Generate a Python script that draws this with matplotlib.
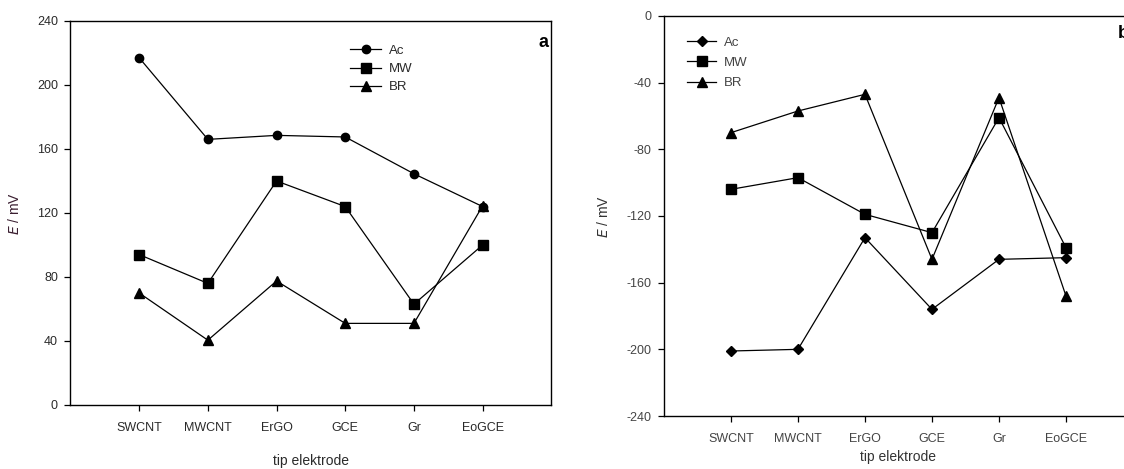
import matplotlib.pyplot as plt

plt.rcParams['font.family'] = ['Liberation Sans', 'DejaVu Sans']
plt.rcParams['axes.unicode_minus'] = False

electrodes = ['SWCNT', 'MWCNT', 'ErGO', 'GCE', 'Gr', 'EoGCE']
series_names = ['Ac', 'MW', 'BR']

# panel a
a_ac = [217, 166, 168.5, 167.5, 144.5, 124]
a_mw = [94, 76, 140, 124, 63, 100]
a_br = [70, 40.5, 77.5, 51, 51, 124.5]

# panel b
b_ac = [-201, -200, -133, -176, -146, -145]
b_mw = [-104, -97, -119, -130, -61, -139]
b_br = [-70, -57, -47, -146, -49, -168]

a_ticks = [0, 40, 80, 120, 160, 200, 240]
b_ticks = [-240, -200, -160, -120, -80, -40, 0]

fig = plt.figure(figsize=(11.24, 4.69), dpi=100)
ax1 = fig.add_axes([0.0627, 0.1365, 0.4278, 0.8188])
ax2 = fig.add_axes([0.5907, 0.1130, 0.4173, 0.8529])

x = range(1, len(electrodes) + 1)


def draw(ax, data, markers, sizes, txtcol):
    for vals, m, s, name in zip(data, markers, sizes, series_names):
        ax.plot(x, vals, color='black', lw=0.9, marker=m, ms=s,
                markerfacecolor='black', markeredgecolor='black', label=name)
    ax.set_xlim(0, 7)
    ax.set_xticks(list(x))
    ax.set_xticklabels(electrodes)
    ax.tick_params(direction='out', length=4, width=0.9, labelsize=9,
                   labelcolor=txtcol, color='black')
    ax.tick_params(axis='x', pad=8)
    ax.tick_params(axis='y', pad=5)
    for sp in ax.spines.values():
        sp.set_linewidth(1.0)


draw(ax1, [a_ac, a_mw, a_br], ['o', 's', '^'], [6, 7.5, 6.5], '#2a2a2a')
ax1.set_ylim(0, 240)
ax1.set_yticks(a_ticks)
ax1.set_ylabel('$\\it{E}$ / mV', fontsize=10, color='#3a1e30', labelpad=11)
ax1.set_xlabel('tip elektrode', fontsize=10, color='#2a2a2a', labelpad=15)
ax1.text(0.995, 0.945, 'a', transform=ax1.transAxes, fontsize=13,
         fontweight='bold', ha='right', va='center')
ax1.legend(loc='upper left', bbox_to_anchor=(0.567, 0.955), frameon=False,
           borderpad=0, handlelength=2.4, handletextpad=0.6,
           labelspacing=0.45, fontsize=9.5, labelcolor='#2a2a2a')

draw(ax2, [b_ac, b_mw, b_br], ['D', 's', '^'], [5.5, 6.5, 6.5], '#444444')
ax2.set_ylim(-240, 0)
ax2.set_yticks(b_ticks)
ax2.set_ylabel('$\\it{E}$ / mV', fontsize=10, color='#333333', labelpad=11)
ax2.set_xlabel('tip elektrode', fontsize=10, color='#333333', labelpad=4)
ax2.text(0.968, 0.957, 'b', transform=ax2.transAxes, fontsize=13,
         fontweight='bold', ha='left', va='center')
ax2.legend(loc='upper left', bbox_to_anchor=(0.036, 0.965), frameon=False,
           borderpad=0, handlelength=2.2, handletextpad=0.6,
           labelspacing=0.6, fontsize=9.5, labelcolor='#444444')

fig.savefig('out.png', dpi=100)
